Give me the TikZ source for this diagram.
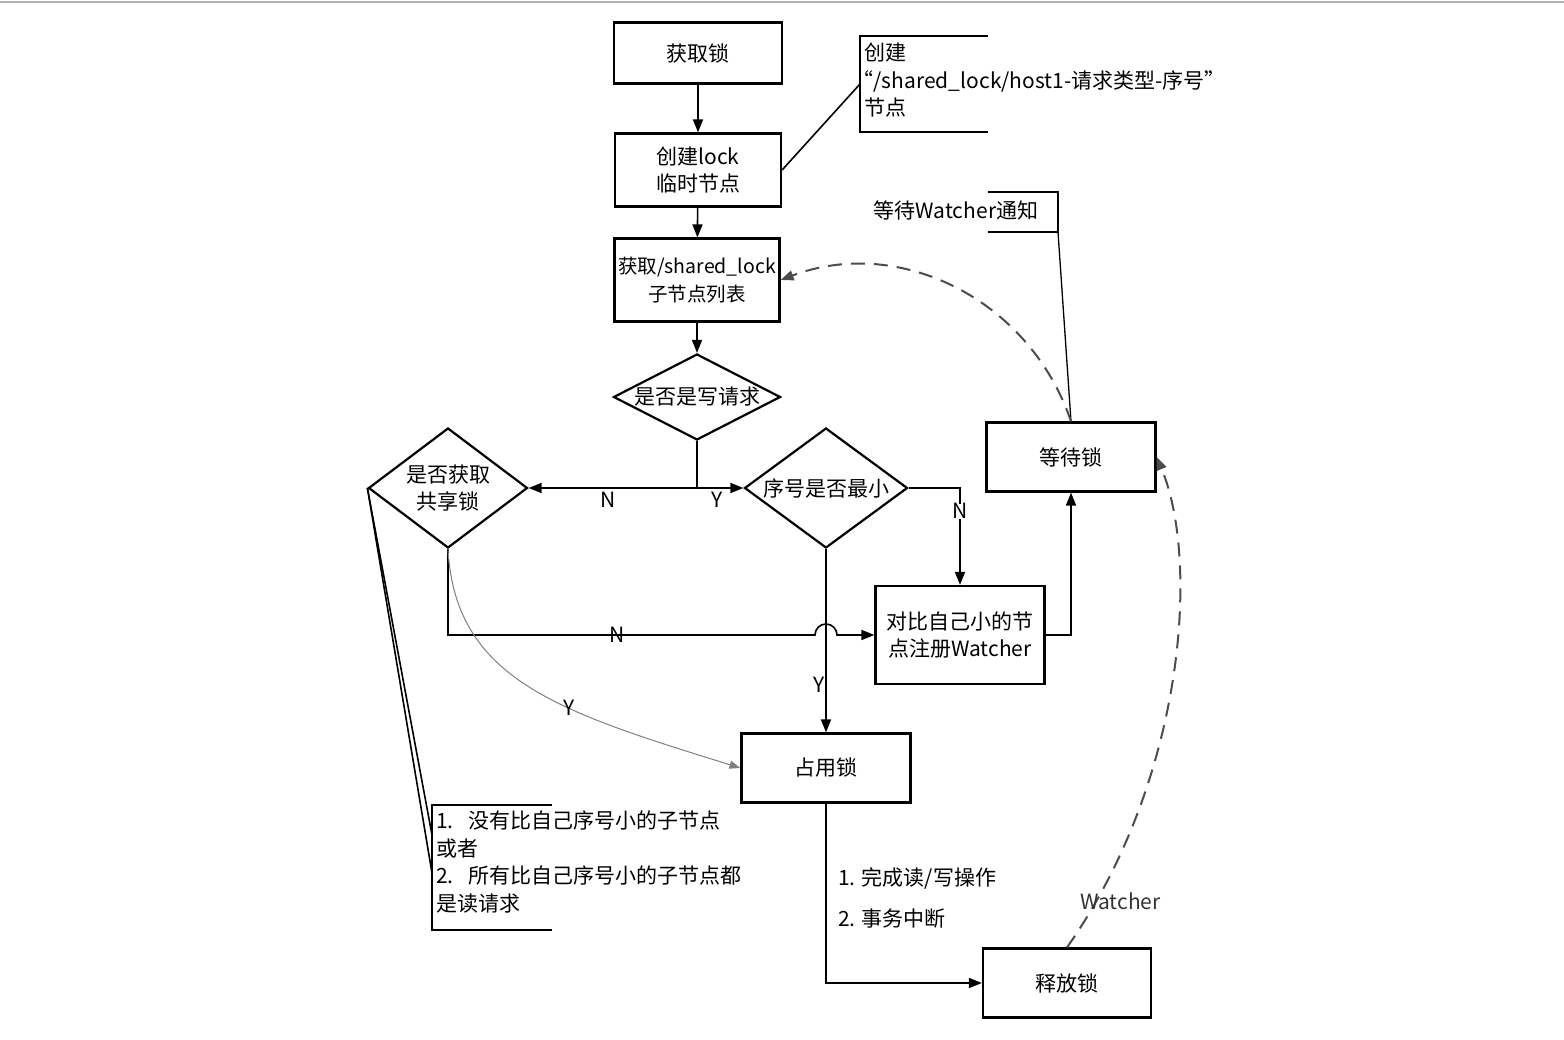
\documentclass[tikz,border=0pt]{standalone}
\usepackage{fontspec}
\setmainfont{Noto Sans CJK SC}
\usetikzlibrary{arrows.meta,shapes.geometric,calc}

\begin{document}
\begin{tikzpicture}[x=1pt,y=1pt,yscale=-1,
    every node/.style={font=\fontsize{21}{27.5}\selectfont},
    box/.style={draw,line width=2.2pt,inner sep=1pt,align=center},
    dia/.style={draw,diamond,line width=2.2pt,inner sep=-2pt,align=center},
    conn/.style={line width=1.6pt},
    arr/.style={conn,-{Triangle[length=13pt,width=10pt]}},
    note/.style={line width=2.4pt},
    wnote/.style={line width=2pt,black!70,dash pattern={on 14pt off 9pt},-{Triangle[length=13pt,width=10pt]}}]
            \useasboundingbox (0,0) rectangle (1564,1040);
            \draw [gray!60,line width=1.5pt] (0,2) -- (1564,2);
            \node [box,minimum width=168pt,minimum height=61pt] (getlock) at (698,53) {获取锁};
            \node [box,minimum width=166pt,minimum height=73pt] (create) at (698,170) {创建lock\\临时节点};
            \node [box,minimum width=165pt,minimum height=83pt,font=\fontsize{19.5}{27.5}\selectfont] (children) at (697,280) {获取/shared\_lock\\子节点列表};
            \node [dia,minimum width=167pt,minimum height=86pt,aspect=1.94] (iswrite) at (697,397) {是否是写请求};
            \node [dia,minimum width=159pt,minimum height=120pt,aspect=1.33] (share) at (448,488) {是否获取\\共享锁};
            \node [dia,minimum width=163pt,minimum height=120pt,aspect=1.36] (minseq) at (826,488) {序号是否最小};
            \node [box,minimum width=169pt,minimum height=69pt] (wait) at (1071,457) {等待锁};
            \node [box,minimum width=169pt,minimum height=98pt] (reg) at (960,635) {对比自己小的节\\点注册Watcher};
            \node [box,minimum width=169pt,minimum height=69pt] (hold) at (826,768) {占用锁};
            \node [box,minimum width=168pt,minimum height=69pt] (release) at (1067,983) {释放锁};
            % notes
            \node [anchor=north west,inner sep=0pt,align=left] (createnote) at (864,43) {创建\\\hspace*{-0.55em}“/shared\_lock/host1-请求类型-序号”\\节点};
            \draw [note] (988,36) -| (860,132) -- (988,132);
            \coordinate (createbr) at (860,84);
            \draw [conn] (create.east) -- (createbr);
            \node (waitnote) at (956,210) {等待Watcher通知};
            \draw [note] (988,192) -| (1058,232) -- (988,232);
            \coordinate (waitbr) at (1058,232);
            \draw [conn,line width=1.3pt] (waitbr) -- (wait.north);
            \node [anchor=north west,inner sep=0pt,align=left] (condnote) at (436,811) {1.\hspace{0.7em}没有比自己序号小的子节点\\或者\\2.\hspace{0.7em}所有比自己序号小的子节点都\\是读请求};
            \draw [note] (552,805) -| (432,930) -- (552,930);
            \coordinate (condbr) at (432,873);
            \coordinate (condbr2) at (432,835);
            \draw [conn] (share.west) -- (condbr);
            \draw [conn] (share.west) -- (condbr2);
            % flow
            \draw [arr] (getlock) -- (create);
            \draw [arr] (create) -- (children);
            \draw [arr] (children) -- (iswrite);
            \coordinate (split) at (iswrite.south |- share.east);
            \draw [conn,line width=1.2pt] (iswrite.south) -- (split);
            \draw [arr] (split) -- (share.east) node [pos=0.53,below=3pt,inner sep=0pt] {N};
            \draw [arr] (split) -- (minseq.west) node [pos=0.43,below=3pt,inner sep=0pt] {Y};
            \draw [arr] (minseq.east) -| (reg.north) node [pos=0.62,fill=white,inner sep=0pt] {N};
            \draw [arr] (minseq.south) -- (hold.north) node [pos=0.74,xshift=-7pt] {Y};
            \draw [arr] (share.south) |- ($(minseq.south |- reg.west)+(-11,0)$) node [pos=0.73] {N} arc [start angle=180,end angle=360,radius=11] -- (reg.west);
            \draw [line width=1pt,gray,-{Triangle[length=11pt,width=8pt]}] (share.south) .. controls (455,680) and (560,712) .. (hold.west) node [pos=0.62,text=black] {Y};
            \draw [arr] (reg.east) -| (wait.south);
            \draw [arr] (hold.south) |- (release.west) node [pos=0.21,anchor=west,xshift=8pt] {1. 完成读/写操作} node [pos=0.32,anchor=west,xshift=8pt] {2. 事务中断};
            \draw [wnote] (wait.north) .. controls (1030,300) and (900,235) .. (children.east);
            \draw [wnote] (release.north) .. controls (1185,780) and (1200,560) .. (wait.east) node [pos=0.09,xshift=24pt,text=black!80] {Watcher};
\end{tikzpicture}
\end{document}
